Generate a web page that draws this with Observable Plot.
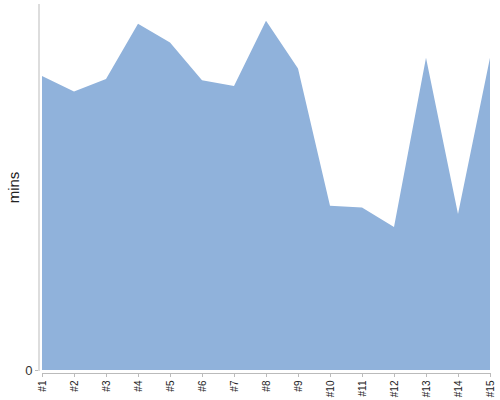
<!DOCTYPE html>
<html>
<head>
<meta charset="utf-8">
<script src="https://cdn.jsdelivr.net/npm/d3@7"></script>
<script src="https://cdn.jsdelivr.net/npm/@observablehq/plot@0.6"></script>
<style>
  html, body { margin: 0; padding: 0; background: #fff; }
  svg { display: block; }
</style>
</head>
<body>
<div id="chart"></div>
<script>
const labels = ["#1","#2","#3","#4","#5","#6","#7","#8","#9","#10","#11","#12","#13","#14","#15"];
const mins = [80.3, 76.1, 79.5, 94.6, 89.5, 79.2, 77.6, 95.4, 82.4, 44.9, 44.4, 39.1, 85.3, 42.6, 85.3];
const yTicks = [0];

const data = labels.map((l, i) => ({label: l, value: mins[i]}));

const chart = Plot.plot({
  width: 500,
  height: 400,
  marginLeft: 42,
  marginRight: 10,
  marginTop: 4,
  marginBottom: 30,
  style: {fontFamily: "'Liberation Sans', Arial, sans-serif", background: "#fff"},
  x: {type: "point", domain: labels, padding: 0, label: null},
  y: {domain: [0, 100], label: null},
  marks: [
    Plot.areaY(data, {x: "label", y: "value", fill: "#90b2db"}),
    Plot.ruleY([0], {dy: 3, stroke: "#bbb"}),
    Plot.axisX({tickRotate: -90, dy: 3, tickSize: 4, stroke: "#bbb", fill: "#222", fontSize: 10, tickPadding: 3, label: null}),
    Plot.axisY({ticks: yTicks, tickSize: 3, dx: -4, stroke: "#bbb", fill: "#333", fontSize: 13, tickPadding: 3, label: null}),
    Plot.frame({anchor: "left", dx: -3.5, stroke: "#bbb"}),
    Plot.text([50], {y: (d) => d, text: () => "mins", frameAnchor: "left", textAnchor: "middle", lineAnchor: "middle", rotate: -90, dx: -28, fontSize: 15, fill: "#222"})
  ]
});
document.getElementById("chart").append(chart);
</script>
</body>
</html>
